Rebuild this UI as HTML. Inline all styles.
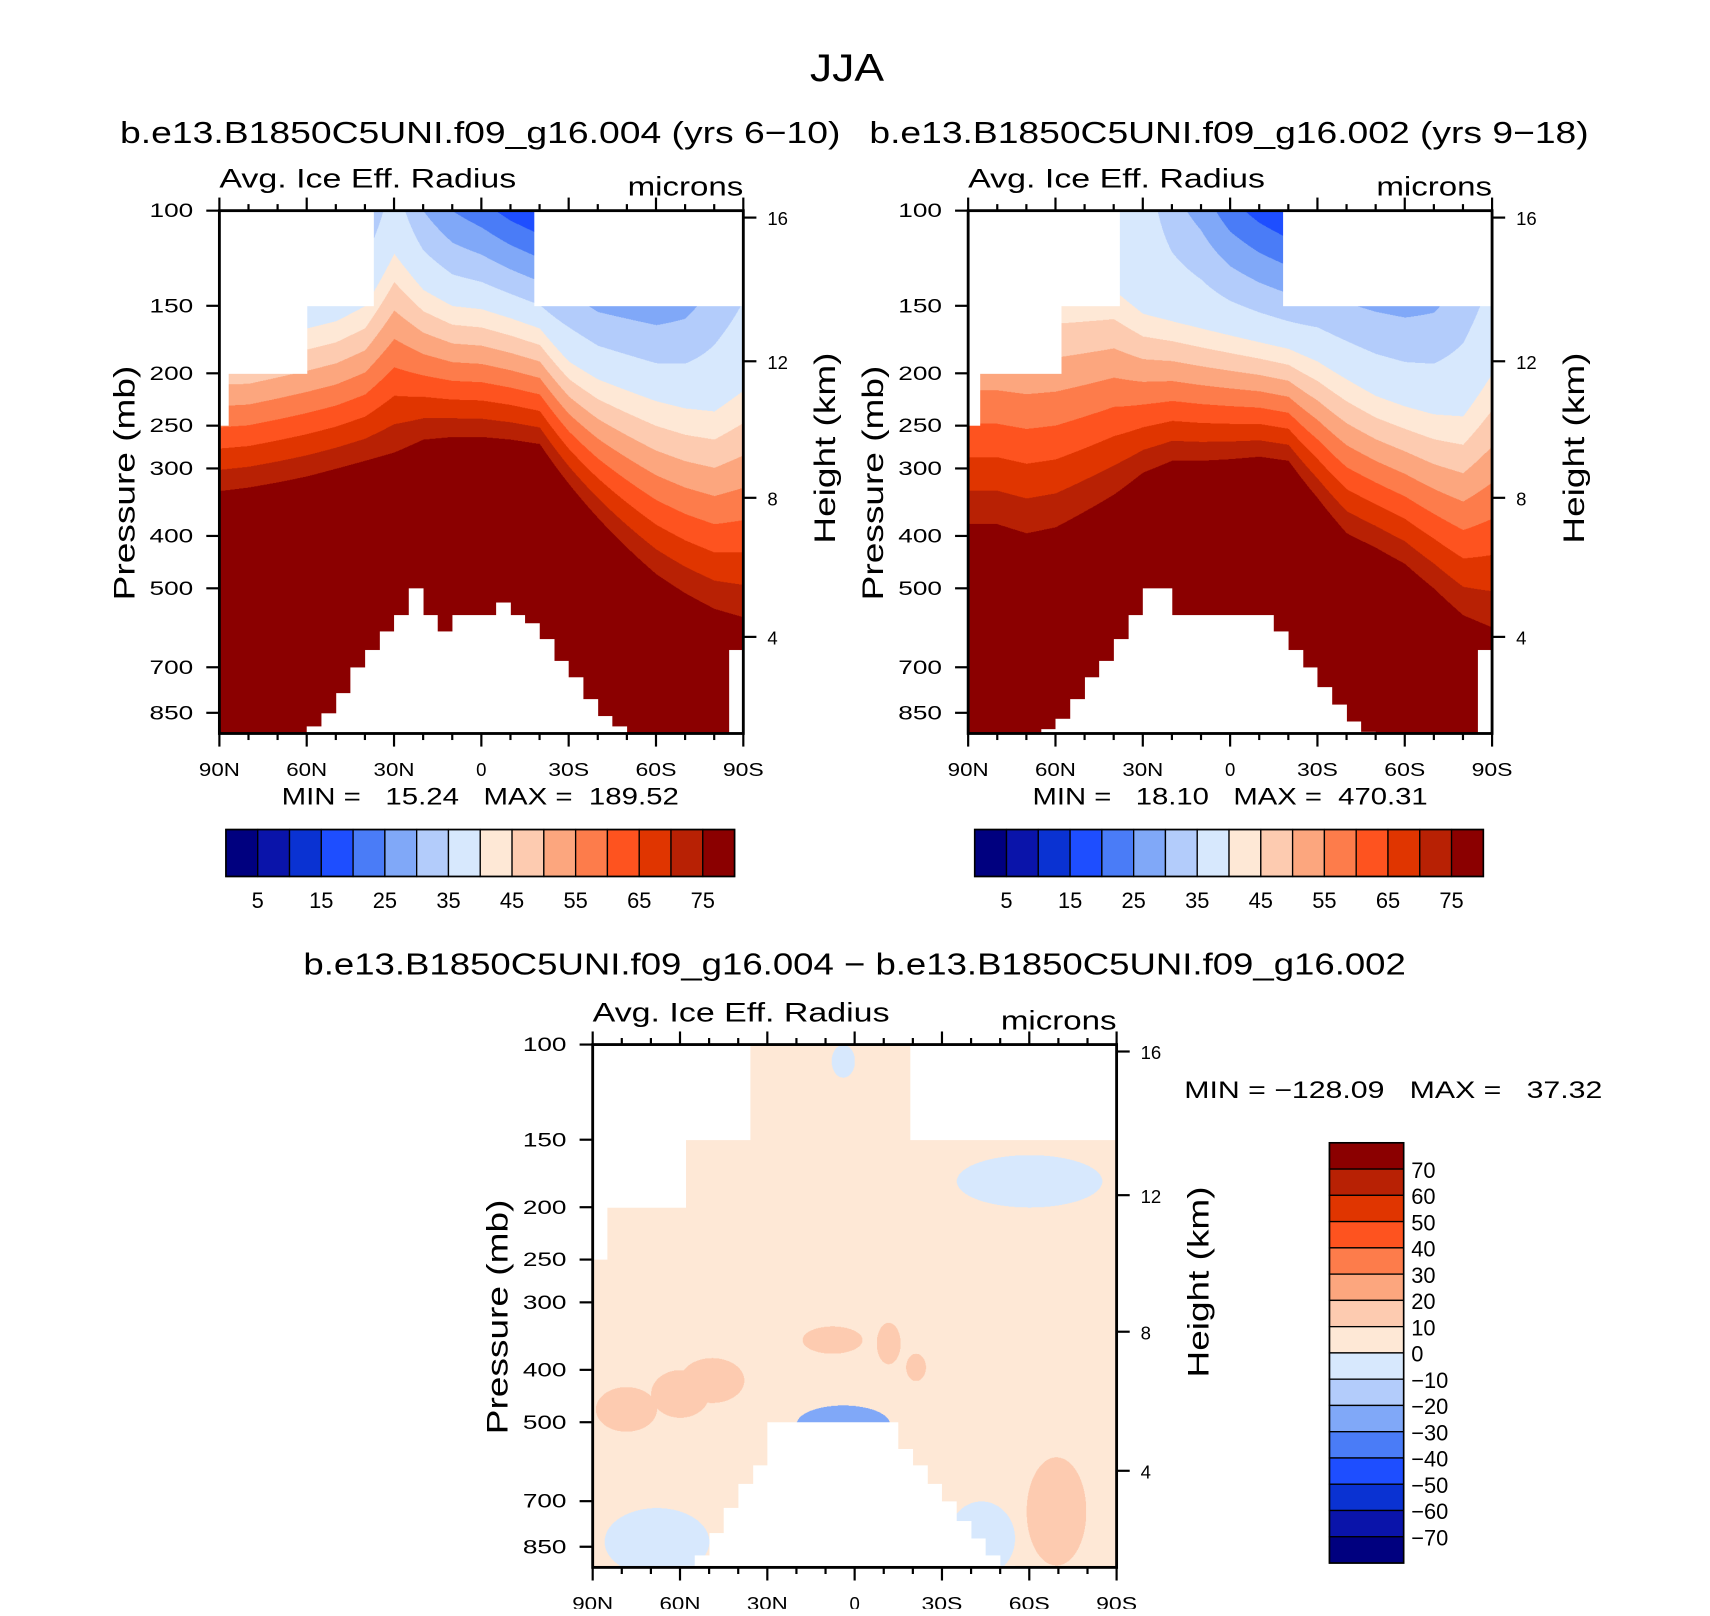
<!DOCTYPE html>
<html><head><meta charset="utf-8">
<style>
html,body{margin:0;padding:0;background:#fff;}
#root{position:absolute;left:0;top:0;width:1560px;height:1474px;transform:scale(1.0915);transform-origin:0 0;font-family:"Liberation Sans",sans-serif;}
canvas{position:absolute;}
svg{position:absolute;left:0;top:0;}
</style></head>
<body>
<div id="root">
<canvas id="c1"></canvas>
<canvas id="c2"></canvas>
<canvas id="c3"></canvas>
<svg id="ov" width="1560" height="1474"></svg>
</div>
<script>
// ---------- data ----------
const lats = [90,80,70,60,50,40,30,20,10,0,-10,-20,-30,-40,-50,-60,-70,-80,-90];
// panel 1 (yrs 6-10)
const p1_p40 = [175,175,170,165,160,150,120,140,150,152,158,165,190,205,215,225,232,235,215];
const p1_p75 = [330,325,318,310,300,290,280,265,262,262,265,270,320,370,420,470,510,545,565];
const p1_v100 = [30,30,30,30,30,30,38,30,25,22,18,15,18,15,15,15,18,25,30];
// panel 2 (yrs 9-18)
const p2_p40 = [140,140,140,140,140,140,155,160,165,170,175,180,190,205,220,230,238,240,200];
const p2_p75 = [380,380,395,385,360,335,305,290,290,288,285,290,340,395,420,450,500,560,590];
const p2_v100 = [35,35,35,35,35,36,38,32,28,22,18,15,18,18,18,18,20,26,32];
// top masks (lat from, lat to, top pressure)
const m1_from = [90,87,60,37,-18], m1_to = [87,60,37,-18,-90], m1_top = [250,200,150,100,150];
const m2_from = [90,86,58,38,-18], m2_to = [86,58,38,-18,-90], m2_top = [250,200,150,100,150];
const m3_from = [90,85,58,36,-19], m3_to = [85,58,36,-19,-90], m3_top = [250,200,150,100,150];
// bottom masks: lowest valid pressure per 5-degree bin (90N -> 90S)
const b1 = [930,930,930,930,930,930,900,850,780,700,650,600,560,500,560,600,560,560,560,530,560,580,620,680,730,800,860,900,930,930,930,930,930,930,930,650];
const b2 = [930,930,930,930,930,910,870,800,730,680,620,560,500,500,560,560,560,560,560,560,560,600,650,700,760,820,880,920,930,930,930,930,930,930,930,650];
const b3 = [930,930,930,930,930,930,920,880,800,720,650,600,500,500,500,500,500,500,500,500,500,560,600,650,700,760,820,880,920,930,930,930,930,930,930,930];
// difference panel: base value and patches
const d_base = 5;
const patchLat0 = [89,70,60,18,-7.5,-17.6,-59,86,-35,8,-32,20,17,12];
const patchLat1 = [68,50,38,-2.6,-15.7,-24.4,-79.5,50,-85,0,-55,-12,-6,8];
const patchP0 = [430,400,380,332,327,373,580,720,160,100,700,465,520,530];
const patchP1 = [520,490,460,373,390,419,920,960,200,115,960,545,605,600];
const patchVal = [15,15,15,15,15,15,15,-5,-5,-5,-5,-25,-45,-65];
// colorbars
const cbLabels1 = [5,15,25,35,45,55,65,75];
const cbLabels3 = [70,60,50,40,30,20,10,0,-10,-20,-30,-40,-50,-60,-70];
const palette = ["#00007f","#0a14aa","#0a32d2","#1e4eff","#4a7cf7","#80a8f8","#b3ccfb","#d7e8fd","#fee8d6","#fdcbb0","#fca67e","#fd7c4b","#fe531f","#e03500","#b82104","#8b0000"];

// ---------- geometry ----------
const PH = 479, DEC = 495;
const panels = [
 {x:201,y:193,c:'c1'},{x:887,y:193,c:'c2'},{x:543,y:957,c:'c3'}];
const W = 480;
function latToX(P,lat){return P.x + (90-lat)/180*W;}
function pToY(P,p){return P.y + DEC*Math.log10(p/100);}
function interp(arr,lat){
  const f=(90-lat)/10; let i=Math.floor(f); if(i>=18)i=17; if(i<0)i=0;
  const t=f-i; return arr[i]*(1-t)+arr[i+1]*t;
}
function masked(lat,p,mf,mt,mtop,bot){
  for(let k=0;k<mf.length;k++){ if(lat<=mf[k]&&lat>=mt[k]){ if(p<mtop[k]) return true; break; } }
  let bi=Math.floor((90-lat)/5); if(bi>35)bi=35; if(bi<0)bi=0;
  return p>bot[bi];
}
function val12(lat,p,a40,a75,a100){
  const p40=interp(a40,lat),p75=interp(a75,lat),v100=interp(a100,lat);
  if(p>=p75) return 80;
  if(p>=p40) return 40+35*Math.log(p/p40)/Math.log(p75/p40);
  return v100+(40-v100)*Math.log(p/100)/Math.log(p40/100);
}
function valDiff(lat,p){
  let v=d_base;
  for(let k=0;k<patchVal.length;k++){
    const lc=(patchLat0[k]+patchLat1[k])/2, lh=Math.abs(patchLat0[k]-patchLat1[k])/2;
    const lp0=Math.log10(patchP0[k]),lp1=Math.log10(patchP1[k]);
    const pc=(lp0+lp1)/2, ph=(lp1-lp0)/2;
    const dx=(lat-lc)/lh, dy=(Math.log10(p)-pc)/ph;
    if(dx*dx+dy*dy<=1) v=patchVal[k];
  }
  return v;
}
const SC=2;
function drawField(idx){
  const P=panels[idx]; const cv=document.getElementById(P.c);
  cv.width=W*SC; cv.height=PH*SC;
  cv.style.left=P.x+'px'; cv.style.top=P.y+'px'; cv.style.width=W+'px'; cv.style.height=PH+'px';
  const ctx=cv.getContext('2d'); const img=ctx.createImageData(cv.width,cv.height);
  const rgb=palette.map(h=>[parseInt(h.substr(1,2),16),parseInt(h.substr(3,2),16),parseInt(h.substr(5,2),16)]);
  for(let j=0;j<cv.height;j++){
    const p=100*Math.pow(10,(j/SC)/DEC);
    for(let i=0;i<cv.width;i++){
      const lat=90-(i/SC)/W*180; let col=[255,255,255];
      let m,ci;
      if(idx===0){m=masked(lat,p,m1_from,m1_to,m1_top,b1); if(!m){const v=val12(lat,p,p1_p40,p1_p75,p1_v100); ci=Math.max(0,Math.min(15,Math.floor(v/5)));}}
      else if(idx===1){m=masked(lat,p,m2_from,m2_to,m2_top,b2); if(!m){const v=val12(lat,p,p2_p40,p2_p75,p2_v100); ci=Math.max(0,Math.min(15,Math.floor(v/5)));}}
      else {m=masked(lat,p,m3_from,m3_to,m3_top,b3); if(!m){const v=valDiff(lat,p); ci=Math.max(0,Math.min(15,Math.floor((v+80)/10)));}}
      if(!m) col=rgb[ci];
      const o=(j*cv.width+i)*4; img.data[o]=col[0];img.data[o+1]=col[1];img.data[o+2]=col[2];img.data[o+3]=255;
    }
  }
  ctx.putImageData(img,0,0);
}
[0,1,2].forEach(drawField);

// ---------- overlay ----------
const NS='http://www.w3.org/2000/svg'; const ov=document.getElementById('ov');
function el(tag,attrs,parent){const e=document.createElementNS(NS,tag);for(const k in attrs)e.setAttribute(k,attrs[k]);(parent||ov).appendChild(e);return e;}
function txt(s,x,y,size,anchor,name,rot,len){
  const t=el('text',{x:x,y:y,'font-size':size,'text-anchor':anchor||'start','font-family':'Liberation Sans, sans-serif',fill:'#000'});
  
  
  if(rot) t.setAttribute('transform','rotate(-90 '+x+' '+y+')');
  if(len){t.setAttribute('textLength',len);t.setAttribute('lengthAdjust','spacingAndGlyphs');}
  t.setAttribute('xml:space','preserve'); t.style.whiteSpace='pre'; t.textContent=s; return t;
}
const pTicks=[100,150,200,250,300,400,500,700,850];
const hTicks=[16,12,8,4];
const hTickP=[103,190,340,615];
const xLabels=['90N','60N','30N','0','30S','60S','90S'];
function axes(P,tag){
  const g=el('g',{});
  
  
  const L=P.x,R=P.x+W,T=P.y,B=P.y+PH;
  el('rect',{x:L,y:T,width:W,height:PH,fill:'none',stroke:'#000','stroke-width':2.6},g);
  for(let d=0;d<=18;d++){
    const x=L+d*W/18, major=d%3===0, len=major?12:6;
    el('line',{x1:x,y1:T,x2:x,y2:T-len,stroke:'#000','stroke-width':2},g);
    el('line',{x1:x,y1:B,x2:x,y2:B+len,stroke:'#000','stroke-width':2},g);
  }
  xLabels.forEach((s,k)=>txt(s,L+k*W/6,B+39,17,'middle',tag+'-x-label',false,s.length===1?null:s.length*12.5));
  pTicks.forEach(p=>{const y=pToY(P,p);el('line',{x1:L,y1:y,x2:L-12,y2:y,stroke:'#000','stroke-width':2},g);txt(String(p),L-24,y+6,18,'end',tag+'-pressure-label',false,40);});
  hTicks.forEach((h,k)=>{const y=pToY(P,hTickP[k]);el('line',{x1:R,y1:y,x2:R+12,y2:y,stroke:'#000','stroke-width':2},g);txt(String(h),R+22,y+7,17,'start',tag+'-height-label');});
  txt('Pressure (mb)',L-78,T+(PH/2)+10,27,'middle',tag+'-y-axis-title',true,215);
  txt('Height (km)',R+84,T+(PH/2)-22,27,'middle',tag+'-right-axis-title',true,175);
  txt('Avg. Ice Eff. Radius',L,T-21,25,'start',tag+'-variable-label',false,272);
  txt('microns',R,T-14,25,'end',tag+'-units-label',false,106);
}
txt('JJA',776,74,36,'middle','figure-title',false,68);
txt('b.e13.B1850C5UNI.f09_g16.004 (yrs 6−10)',440,131,28,'middle','panel-1-title',false,660);
txt('b.e13.B1850C5UNI.f09_g16.002 (yrs 9−18)',1126,131,28,'middle','panel-2-title',false,659);
txt('b.e13.B1850C5UNI.f09_g16.004 − b.e13.B1850C5UNI.f09_g16.002',783,893,28,'middle','difference-title',false,1010);
axes(panels[0],'panel-1'); axes(panels[1],'panel-2'); axes(panels[2],'difference');
txt('MIN =   15.24   MAX =  189.52',258,737,22,'start','panel-1-min-max',false,364);
txt('MIN =   18.10   MAX =  470.31',946,737,22,'start','panel-2-min-max',false,362);
txt('MIN = −128.09   MAX =   37.32',1085,1006,22,'start','difference-min-max',false,383);
// horizontal colorbars
function hbar(x0,tag){
  const bw=466/16;
  palette.forEach((c,k)=>{const r=el('rect',{x:x0+k*bw,y:760,width:bw,height:43,fill:c,stroke:'#000','stroke-width':1.2});
    
    });
  el('rect',{x:x0,y:760,width:466,height:43,fill:'none',stroke:'#000','stroke-width':1.5});
  cbLabels1.forEach((v,k)=>txt(String(v),x0+(1+2*k)*bw,832,20,'middle',tag+'-colorbar-label'));
}
hbar(207,'panel-1'); hbar(893,'panel-2');
// vertical colorbar
(function(){
  const x0=1218,y0=1047,w=68,h=385,bh=h/16;
  for(let k=0;k<16;k++){const r=el('rect',{x:x0,y:y0+k*bh,width:w,height:bh,fill:palette[15-k],stroke:'#000','stroke-width':1.2});
    
    }
  el('rect',{x:x0,y:y0,width:w,height:h,fill:'none',stroke:'#000','stroke-width':1.5});
  cbLabels3.forEach((v,k)=>txt(v<0?'−'+(-v):String(v),1293,y0+(k+1)*bh+8,20,'start','difference-colorbar-label'));
})();
</script>
</body></html>
